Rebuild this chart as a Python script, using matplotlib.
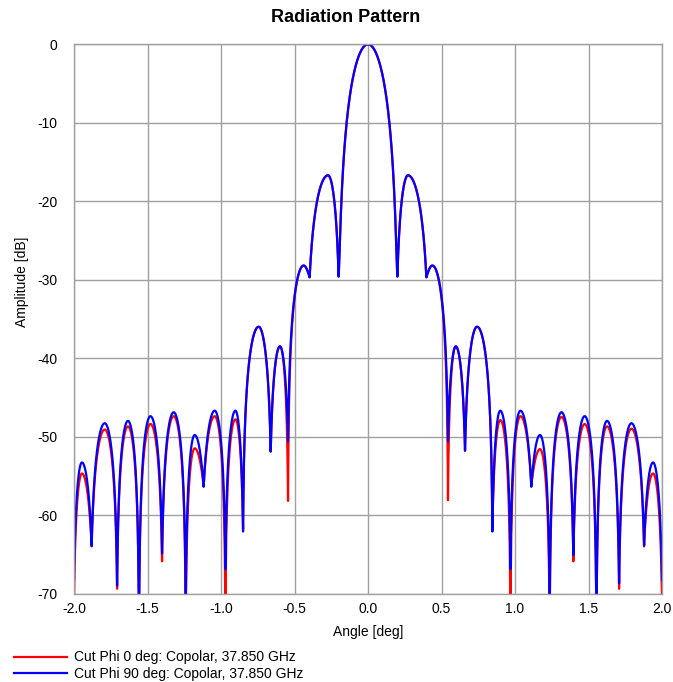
import numpy as np
import matplotlib
matplotlib.use("Agg")
import matplotlib.pyplot as plt

# Key points (alternating null / lobe peak), angle in deg
angles = [-2.0, -1.946, -1.880, -1.791, -1.707, -1.633, -1.558, -1.480, -1.401, -1.322,
          -1.240, -1.179, -1.118, -1.043, -0.970, -0.902, -0.850, -0.744, -0.662, -0.599,
          -0.544, -0.438, -0.397, -0.272, -0.200, 0.0,
          0.200, 0.272, 0.397, 0.438, 0.544, 0.597, 0.660, 0.742, 0.846, 0.900,
          0.969, 1.037, 1.111, 1.170, 1.236, 1.316, 1.397, 1.474, 1.554, 1.626,
          1.708, 1.792, 1.878, 1.939, 2.0]

phi0_db = [-71.0, -54.7, -64.0, -49.1, -69.4, -48.7, -75.0, -48.4, -65.9, -47.4,
           -75.0, -51.5, -56.3, -47.4, -75.0, -47.8, -61.8, -36.0, -51.9, -38.5,
           -58.2, -28.2, -29.7, -16.7, -29.6, 0.0,
           -29.6, -16.7, -29.7, -28.2, -58.1, -38.5, -51.8, -36.0, -62.0, -47.9,
           -75.0, -47.4, -56.2, -51.6, -75.0, -47.5, -65.9, -48.4, -75.0, -48.7,
           -69.4, -49.0, -64.0, -54.7, -71.0]

phi90_db = [-68.3, -53.3, -63.9, -48.3, -69.0, -48.0, -75.0, -47.4, -64.9, -46.9,
            -72.0, -49.8, -56.4, -46.7, -66.9, -46.7, -62.1, -36.0, -51.9, -38.5,
            -50.6, -28.2, -29.7, -16.7, -29.6, 0.0,
            -29.6, -16.7, -29.7, -28.2, -50.6, -38.5, -51.8, -36.0, -62.1, -46.7,
            -66.9, -46.7, -56.4, -49.8, -72.0, -46.9, -65.1, -47.4, -75.0, -48.0,
            -68.7, -48.3, -63.9, -53.3, -68.3]

labels = ["Cut Phi 0 deg: Copolar, 37.850 GHz", "Cut Phi 90 deg: Copolar, 37.850 GHz"]
x_ticks = [-2.0, -1.5, -1.0, -0.5, 0.0, 0.5, 1.0, 1.5, 2.0]
y_ticks = [0, -10, -20, -30, -40, -50, -60, -70]


def lobe_trace(xk, vk, n=80):
    """Join null/peak key points with lobe-shaped arcs (in linear amplitude)."""
    xs, ys = [], []
    for i in range(len(xk) - 1):
        x0, x1 = xk[i], xk[i + 1]
        v0, v1 = vk[i], vk[i + 1]
        t = np.linspace(0, 1, n)
        if i % 2 == 0:      # null -> peak
            s = t
            vn, vp = v0, v1
        else:               # peak -> null
            s = 1 - t
            vn, vp = v1, v0
        k = 1.4 if max(vp, vn) >= -0.01 else 1.0
        an, ap = 10 ** (vn / 20), 10 ** (vp / 20)
        a = an + (ap - an) * np.sin(np.pi / 2 * s) ** k
        xs.append(x0 + (x1 - x0) * t)
        ys.append(20 * np.log10(a))
    return np.concatenate(xs), np.concatenate(ys)


plt.rcParams["font.family"] = ["Liberation Sans", "DejaVu Sans"]
fig = plt.figure(figsize=(6.73, 6.82), dpi=100)
ax = fig.add_axes([74 / 673, 1 - 593.5 / 682, 588 / 673, 549.2 / 682])

x0, y0 = lobe_trace(angles, phi0_db)
x1, y1 = lobe_trace(angles, phi90_db)
l0, = ax.plot(x0, y0, color="#ff0000", lw=1.6, label=labels[0])
l1, = ax.plot(x1, y1, color="#0000ff", lw=1.6, label=labels[1])

ax.set_xlim(-2.0, 2.0)
ax.set_ylim(-70, 0)
ax.set_xticks(x_ticks)
ax.set_xticklabels([f"{v:.1f}" for v in x_ticks])
ax.set_yticks(y_ticks)
ax.set_yticklabels([str(v) for v in y_ticks])
ax.tick_params(axis="both", length=0, labelsize=10, colors="#000000")
ax.tick_params(axis="y", pad=12)
ax.tick_params(axis="x", pad=6)
ax.grid(True, color="#a0a0a0", lw=1.0)
ax.set_axisbelow(True)
for sp in ax.spines.values():
    sp.set_color("#a0a0a0")
    sp.set_linewidth(1.0)

fig.text(346 / 673, 1 - 18 / 682, "Radiation Pattern", ha="center", va="center",
         fontsize=13, fontweight="bold")
fig.text(368 / 673, 1 - 632 / 682, "Angle [deg]", ha="center", va="center", fontsize=10)
fig.text(22 / 673, 1 - 282 / 682, "Amplitude [dB]", ha="center", va="center",
         fontsize=10, rotation=90)

fig.legend(handles=[l0, l1], loc="upper left", bbox_to_anchor=(14 / 673, 1 - 650.5 / 682),
           frameon=False, fontsize=10, handlelength=3.85, handletextpad=0.45,
           labelspacing=0.2, borderpad=0, borderaxespad=0)

fig.savefig("out.png", dpi=100)
